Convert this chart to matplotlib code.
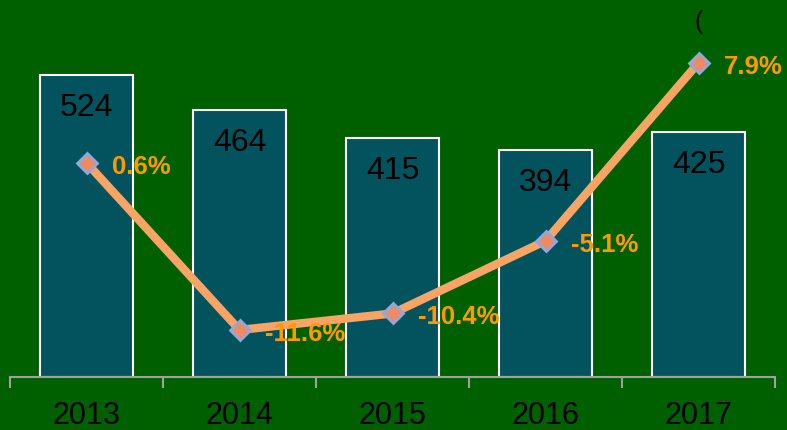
import matplotlib
matplotlib.use("Agg")
import matplotlib.pyplot as plt
import numpy as np

years = ["2013", "2014", "2015", "2016", "2017"]
values = [524, 464, 415, 394, 425]
growth = [0.6, -11.6, -10.4, -5.1, 7.9]
growth_labels = ["0.6%", "-11.6%", "-10.4%", "-5.1%", "7.9%"]

plt.rcParams['font.family'] = ['Liberation Sans', 'DejaVu Sans']

bg = "#006000"
fig = plt.figure(figsize=(7.87, 4.31), dpi=100, facecolor=bg)
ax = fig.add_axes([10/787, 53/431, 765/787, 378/431])
ax.set_facecolor(bg)
x = np.arange(len(years))
ppu = 302 / 524.0
ax.bar(x, values, width=0.61, color="#03535F", edgecolor="white", linewidth=1.5, zorder=2)
for xi, v in zip(x, values):
    ax.text(xi, v - 32/ppu, str(v), ha="center", va="center", fontsize=23, color="black", zorder=3)
ax.set_xlim(-0.5, len(years) - 0.5)
ax.set_ylim(0, 378 / ppu)
ax.set_yticks([])
for s in ["top", "right", "left"]:
    ax.spines[s].set_visible(False)
ax.spines["bottom"].set_color("#A0A0A0")
ax.spines["bottom"].set_linewidth(1.5)
ax.set_xticks(np.arange(-0.5, len(years), 1.0))
ax.set_xticklabels([])
ax.tick_params(axis="x", length=8, width=1.5, color="#A0A0A0")
for xi, y in zip(x, years):
    ax.text(xi, -38/ppu, y, ha="center", va="center", fontsize=22, color="black", clip_on=False)

ax2 = ax.twinx()
pp = 13.7
y0 = 172
ax2.set_ylim((y0 - 378) / pp, y0 / pp)
ax2.plot(x, growth, color="#F7A464", linewidth=6, zorder=4, solid_capstyle="butt")
ax2.plot(x, growth, linestyle="none", marker="D", markersize=10, markerfacecolor="#F08A60",
         markeredgecolor="#8FA8E0", markeredgewidth=2, zorder=5)
for xi, g, lab in zip(x, growth, growth_labels):
    ax2.annotate(lab, (xi, g), xytext=(18, -2), textcoords="offset points", ha="left", va="center",
                 fontsize=18.5, fontweight="bold", color="#FF9900", zorder=6)
ax2.axis("off")
ax2.text(4, (y0 - 22) / pp, "(", ha="center", va="center", fontsize=18, color="black")

fig.savefig("out.png", dpi=100, facecolor=bg)
